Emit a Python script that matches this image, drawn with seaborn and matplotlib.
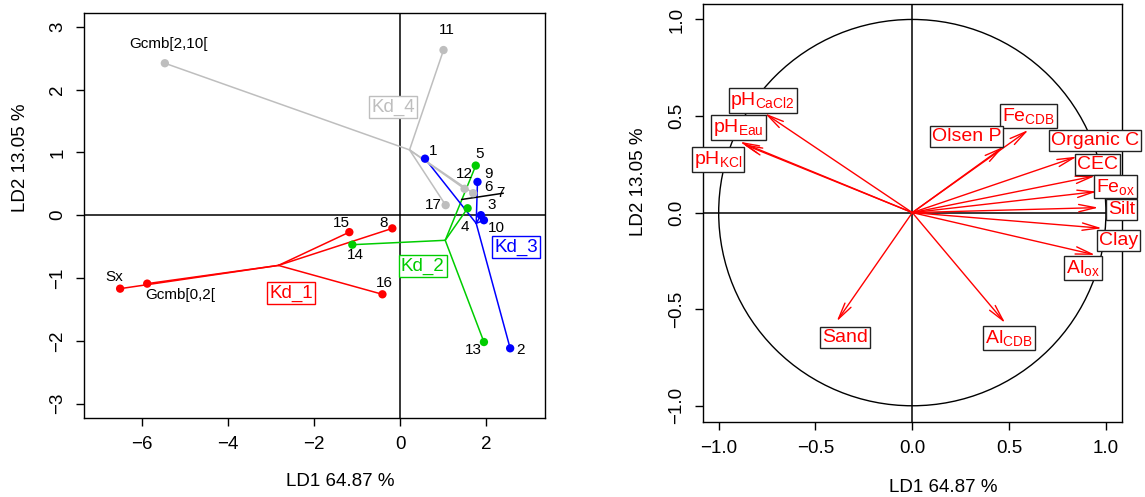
import numpy as np
import pandas as pd
import matplotlib
matplotlib.use('Agg')
import matplotlib.pyplot as plt
import seaborn as sns
from matplotlib.patches import Circle

# %%
# left panel: individuals on LD1/LD2, grouped by Kd class
pt_name = ['Gcmb[2,10[', '11', '17', '12', '6',
           '1', '9', '3', '10', '2',
           '5', '4', '14', '13',
           'Sx', 'Gcmb[0,2[', '15', '8', '16']
pt_grp = ['Kd_4'] * 5 + ['Kd_3'] * 5 + ['Kd_2'] * 4 + ['Kd_1'] * 5
pt_x = [-5.47, 1.01, 1.06, 1.50, 1.70,
        0.58, 1.80, 1.88, 1.95, 2.56,
        1.76, 1.57, -1.11, 1.95,
        -6.51, -5.88, -1.18, -0.18, -0.41]
pt_y = [2.42, 2.63, 0.16, 0.42, 0.35,
        0.90, 0.53, 0.00, -0.08, -2.12,
        0.79, 0.11, -0.47, -2.02,
        -1.17, -1.09, -0.27, -0.21, -1.26]
# text positions of the point labels
lab_x = [-5.39, 1.09, 0.78, 1.50, 2.05,
         0.78, 2.05, 2.13, 2.25, 2.81,
         1.84, 1.51, -1.05, 1.71,
         -6.64, -5.12, -1.37, -0.39, -0.36]
lab_y = [2.72, 2.95, 0.16, 0.66, 0.45,
         1.02, 0.66, 0.16, -0.21, -2.15,
         0.98, -0.19, -0.64, -2.15,
         -0.98, -1.27, -0.12, -0.13, -1.08]

grp_name = ['Kd_1', 'Kd_2', 'Kd_3', 'Kd_4']
grp_cx = [-2.83, 1.05, 1.77, 0.22]
grp_cy = [-0.80, -0.40, -0.13, 1.04]
grp_lx = [-2.53, 0.53, 2.70, -0.16]
grp_ly = [-1.24, -0.81, -0.51, 1.72]
grp_col = ['#FF0000', '#00CD00', '#0000FF', '#BEBEBE']

# odd black segment ending at sample 7
seg7_x = [1.43, 2.40]
seg7_y = [0.25, 0.35]

# right panel: correlation circle
var_lab = ['pH$_{CaCl2}$', 'pH$_{Eau}$', 'pH$_{KCl}$', 'Fe$_{CDB}$', 'Olsen P',
           'Organic C', 'CEC', 'Fe$_{ox}$', 'Silt', 'Clay', 'Al$_{ox}$',
           'Sand', 'Al$_{CDB}$']
var_x = [-0.762, -0.891, -0.875, 0.600, 0.471, 0.850, 0.945, 0.954, 0.962,
         0.980, 0.945, -0.391, 0.480]
var_y = [0.514, 0.367, 0.355, 0.428, 0.341, 0.290, 0.190, 0.109, 0.026,
         -0.081, -0.219, -0.564, -0.572]
var_lx = [-0.773, -0.897, -1.004, 0.598, 0.280, 0.943, 0.955, 1.050, 1.080,
          1.064, 0.880, -0.347, 0.500]
var_ly = [0.579, 0.439, 0.276, 0.499, 0.394, 0.372, 0.251, 0.135, 0.016,
          -0.146, -0.285, -0.648, -0.647]

# %%
sns.set_theme(style='ticks')
plt.rcParams['font.family'] = ['Liberation Sans', 'DejaVu Sans']
plt.rcParams['mathtext.default'] = 'regular'
plt.rcParams['axes.linewidth'] = 1.0
for k in ['text.color', 'axes.labelcolor', 'xtick.color', 'ytick.color',
          'axes.edgecolor']:
    plt.rcParams[k] = 'black'

fig = plt.figure(figsize=(11.45, 4.97), dpi=100)
ax1 = fig.add_axes([84 / 1145, 79 / 497, 461 / 1145, 405 / 497])
ax2 = fig.add_axes([703 / 1145, 75 / 497, 419 / 1145, 418 / 497])

df = pd.DataFrame({'name': pt_name, 'grp': pt_grp, 'x': pt_x, 'y': pt_y,
                   'lx': lab_x, 'ly': lab_y})
pal = dict(zip(grp_name, grp_col))

ax1.axhline(0, color='black', lw=1.1, zorder=1)
ax1.axvline(0, color='black', lw=1.1, zorder=1)

# stars from class centre to each member
for g, cx, cy in zip(grp_name, grp_cx, grp_cy):
    sub = df[df['grp'] == g]
    for _, r in sub.iterrows():
        ax1.plot([cx, r['x']], [cy, r['y']], color=pal[g], lw=1.1, zorder=2)
ax1.plot(seg7_x, seg7_y, color='black', lw=1.1, zorder=2)

sns.scatterplot(data=df, x='x', y='y', hue='grp', palette=pal, s=36,
                linewidth=0, legend=False, ax=ax1, zorder=3)

for _, r in df.iterrows():
    ax1.text(r['lx'], r['ly'], r['name'], fontsize=11, ha='center',
             va='center', zorder=4)
ax1.text(2.33, 0.36, '7', fontsize=11, ha='center', va='center', zorder=4)

for g, lx, ly in zip(grp_name, grp_lx, grp_ly):
    ax1.text(lx, ly, g, color=pal[g], fontsize=13.5, ha='center', va='center',
             zorder=5,
             bbox=dict(boxstyle='square,pad=0.12', fc='white', ec=pal[g], lw=1.0))

ax1.set_xlim(-7.35, 3.37)
ax1.set_ylim(-3.23, 3.22)
ax1.set_xticks([-6, -4, -2, 0, 2])
ax1.set_yticks([-3, -2, -1, 0, 1, 2, 3])
ax1.set_xlabel('LD1 64.87 %', fontsize=13.5)
ax1.set_ylabel('LD2 13.05 %', fontsize=13.5)
ax1.xaxis.set_label_coords(0.555, -0.156)
ax1.yaxis.set_label_coords(-0.137, 0.642)

# %%
ax2.add_patch(Circle((0, 0), 1, fill=False, ec='black', lw=1.0, zorder=1))
ax2.axhline(0, color='black', lw=1.1, zorder=1)
ax2.axvline(0, color='black', lw=1.1, zorder=1)

for vx, vy in zip(var_x, var_y):
    ax2.annotate('', xy=(vx, vy), xytext=(0, 0), zorder=3,
                 arrowprops=dict(arrowstyle='->,head_length=1.0,head_width=0.22',
                                 color='#FF0000', lw=1.0, shrinkA=0, shrinkB=0,
                                 mutation_scale=12))

for lab, lx, ly in zip(var_lab, var_lx, var_ly):
    ax2.text(lx, ly, lab, color='#FF0000', fontsize=14, ha='center',
             va='center', zorder=5, clip_on=False,
             bbox=dict(boxstyle='square,pad=0.1', fc='white', ec='#222222', lw=1.0))

ax2.set_xlim(-1.081, 1.083)
ax2.set_ylim(-1.084, 1.08)
ax2.set_xticks([-1.0, -0.5, 0.0, 0.5, 1.0])
ax2.set_yticks([-1.0, -0.5, 0.0, 0.5, 1.0])
ax2.set_xticklabels(['\u22121.0', '\u22120.5', '0.0', '0.5', '1.0'])
ax2.set_yticklabels(['\u22121.0', '\u22120.5', '0.0', '0.5', '1.0'])
ax2.set_xlabel('LD1 64.87 %', fontsize=13.5)
ax2.set_ylabel('LD2 13.05 %', fontsize=13.5)
ax2.xaxis.set_label_coords(0.573, -0.156)
ax2.yaxis.set_label_coords(-0.155, 0.574)

for ax in (ax1, ax2):
    ax.tick_params(direction='out', length=5.8, width=1.0, labelsize=13.5,
                   color='black', labelcolor='black', pad=7)
    ax.tick_params(axis='y', labelrotation=90)
    for t in ax.get_yticklabels():
        t.set_va('center')
    ax.xaxis.label.set_va('center')
    ax.yaxis.label.set_va('center')
    for s in ax.spines.values():
        s.set_visible(True)
        s.set_color('black')
    ax.set_facecolor('white')

fig.savefig('out.png', dpi=100, facecolor='white')
